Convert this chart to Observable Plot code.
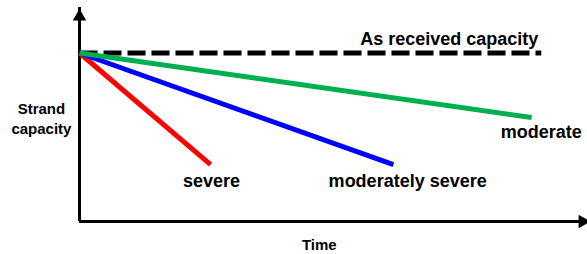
<!DOCTYPE html>
<html><head><meta charset="utf-8">
<script src="https://cdn.jsdelivr.net/npm/d3@7"></script>
<script src="https://cdn.jsdelivr.net/npm/@observablehq/plot@0.6"></script>
<style>body{margin:0;background:#fff}</style>
</head><body><div id="chart"></div>
<script>
// Series (conceptual: capacity relative to as-received, time in arbitrary units)
const series = ["As received capacity", "moderate", "moderately severe", "severe"];
const startTime = [0, 0, 0, 0];
const startCapacity = [1, 1, 1, 1];
const endTime = [9.09, 8.9, 6.18, 2.58];
const endCapacity = [1, 0.617, 0.338, 0.338];
const seriesColors = ["#000000", "#00b050", "#0000ff", "#ff0000"];

// Curve labels
const labelText = ["As received capacity", "moderate", "moderately severe", "severe"];
const labelTime = [7.28, 9.09, 6.46, 2.6];
const labelCapacity = [1.079, 0.527, 0.236, 0.236];

// Axis titles
const xTitle = "Time";
const yTitle = "Strand\ncapacity";
const xTitleAt = [4.72, -0.138];
const yTitleAt = [-0.75, 0.617];

const xMax = 10, yMax = 1.27;

const lines = [];
series.forEach((s, i) => {
  lines.push({series: s, time: startTime[i], capacity: startCapacity[i]});
  lines.push({series: s, time: endTime[i], capacity: endCapacity[i]});
});
const dashed = lines.filter(d => d.series === series[0]);
const solid = lines.filter(d => d.series !== series[0]);
const labels = labelText.map((t, i) => ({text: t, time: labelTime[i], capacity: labelCapacity[i]}));

const font = "'Liberation Sans', Arial, Helvetica, sans-serif";

const chart = Plot.plot({
  width: 587,
  height: 254,
  marginLeft: 79,
  marginRight: 0,
  marginTop: 7,
  marginBottom: 33,
  style: {fontFamily: font, background: "#fff", overflow: "visible"},
  x: {domain: [0, xMax], axis: null},
  y: {domain: [0, yMax], axis: null},
  color: {domain: series, range: seriesColors},
  marks: [
    Plot.ruleY([0], {stroke: "#000", strokeWidth: 3}),
    Plot.ruleX([0], {stroke: "#000", strokeWidth: 3}),
    Plot.dot([{time: 0, capacity: yMax}], {x: "time", y: "capacity", symbol: "triangle", r: 5, fill: "#000", stroke: null, dy: 9}),
    Plot.dot([{time: xMax, capacity: 0}], {x: "time", y: "capacity", symbol: "triangle", r: 5, fill: "#000", stroke: null, rotate: 90, dx: -5}),
    Plot.line(dashed, {x: "time", y: "capacity", stroke: "series", strokeWidth: 5, strokeDasharray: "18,6", strokeLinecap: "butt"}),
    Plot.line(solid.filter(d => d.series === "severe"), {x: "time", y: "capacity", stroke: "series", strokeWidth: 5, strokeLinecap: "butt"}),
    Plot.line(solid.filter(d => d.series === "moderately severe"), {x: "time", y: "capacity", stroke: "series", strokeWidth: 5, strokeLinecap: "butt"}),
    Plot.line(solid.filter(d => d.series === "moderate"), {x: "time", y: "capacity", stroke: "series", strokeWidth: 5, strokeLinecap: "butt"}),
    Plot.text(labels, {x: "time", y: "capacity", text: "text", fontSize: 18, fontWeight: "bold", fill: "#000", textAnchor: "middle", lineAnchor: "middle"}),
    Plot.text([{t: xTitle, time: xTitleAt[0], capacity: xTitleAt[1]}], {x: "time", y: "capacity", text: "t", fontSize: 15, fontWeight: "bold", fill: "#000", textAnchor: "middle", lineAnchor: "middle"}),
    Plot.text([{t: yTitle, time: yTitleAt[0], capacity: yTitleAt[1]}], {x: "time", y: "capacity", text: "t", fontSize: 15, fontWeight: "bold", fill: "#000", textAnchor: "middle", lineAnchor: "middle", lineHeight: 1.33})
  ]
});
document.getElementById("chart").appendChild(chart);
</script>
</body></html>
